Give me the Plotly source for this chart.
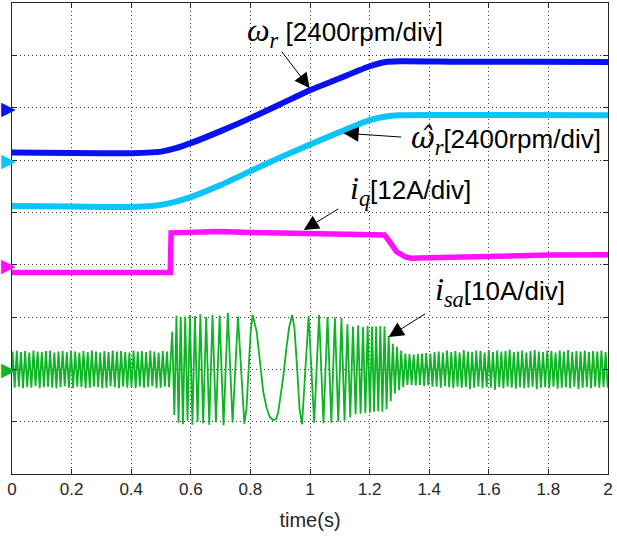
import plotly.graph_objects as go

# ---------------- data ----------------
# rotor speed omega_r  [rpm], 2400 rpm/div
wr_t = [0, 0.2, 0.4, 0.47, 0.5, 0.55, 0.6, 0.7, 0.8, 0.9, 1.0, 1.1, 1.2, 1.25, 1.3, 1.5, 1.75, 2.0]
wr_rpm = [-2060, -2080, -2085, -2050, -2015, -1855, -1625, -1075, -480, 160, 800, 1350, 1900, 2085, 2125, 2105, 2110, 2100]

# estimated speed omega_r_hat [rpm], 2400 rpm/div
wh_t = [0, 0.2, 0.4, 0.47, 0.53, 0.6, 0.7, 0.8, 0.9, 1.0, 1.1, 1.2, 1.25, 1.3, 1.6, 2.0]
wh_rpm = [-2110, -2130, -2155, -2110, -1975, -1700, -1150, -510, 120, 710, 1280, 1825, 1985, 2055, 2060, 2055]

# q-axis current i_q [A], 12 A/div
iq_t = [0, 0.2, 0.4, 0.531, 0.534, 0.6, 0.7, 0.8, 0.9, 1.0, 1.1, 1.2, 1.25, 1.265, 1.29, 1.32, 1.34, 1.4, 1.6, 1.8, 2.0]
iq_A = [-1.8, -1.7, -1.8, -1.8, 7.3, 7.5, 7.6, 7.4, 7.2, 7.0, 7.0, 6.9, 6.8, 5.5, 3.0, 1.8, 1.5, 1.6, 2.0, 2.2, 2.3]

# phase current i_sa [A], 10 A/div : extremes (time in ms)
isa_t_a = [0, 2, 9, 16, 23, 30, 37, 44, 51, 58, 65, 72, 79, 86, 93, 100, 107, 114, 121, 128, 135,
           142, 149, 156, 163, 170, 177, 184, 191, 198, 205, 212, 219, 226, 233, 240, 247, 254, 261, 268, 275,
           282, 289, 296, 303, 310, 317, 324, 331, 338, 345, 352, 359, 366, 373, 380, 387, 394, 401, 408, 415,
           422, 429, 436, 443, 450, 457, 464, 471, 478, 485, 492, 499, 506, 513, 520, 527]
isa_A_a = [0.0, 3.4, -3.5, 3.6, -3.3, 3.3, -3.6, 3.5, -3.4, 3.2, -3.5, 3.6, -3.2, 3.4, -3.6, 3.3, -3.4,
           3.5, -3.3, 3.6, -3.5, 3.2, -3.6, 3.4, -3.4, 3.5, -3.2, 3.3, -3.5, 3.6, -3.6, 3.4, -3.3,
           3.2, -3.4, 3.5, -3.6, 3.3, -3.5, 3.6, -3.3, 3.4, -3.4, 3.2, -3.6, 3.5, -3.5, 3.3, -3.2,
           3.6, -3.4, 3.4, -3.6, 3.5, -3.3, 3.3, -3.5, 3.2, -3.4, 3.6, -3.6, 3.4, -3.3, 3.5, -3.5,
           3.3, -3.4, 3.6, -3.2, 3.4, -3.6, 3.2, -3.5, 3.5, -3.3, 3.4, -3.4]
isa_t_b = [537.8, 544.8, 551.8, 558.9, 566.1, 573.6, 581.2, 589.0, 597.1, 605.4, 614.0, 622.8, 632.0,
           641.5, 651.5, 661.9, 672.8, 684.4, 696.7, 709.9, 724.3, 740.2, 758.3, 779.7, 787, 794, 801, 807.6,
           821, 832, 843, 854, 865, 876, 886, 893, 900, 910, 921, 930, 940, 948, 957, 965]
isa_A_b = [7.2, -8.7, 10.3, -10.2, 10.0, -10.5, 10.1, -9.8, 10.4, -10.6, 10.2, -10.0, 10.5,
           -10.3, 10.0, -10.6, 10.4, -10.1, 10.3, -10.7, 10.8, -10.2, 10.1, -10.4, -7.4, 0.0, 7.4, 10.4,
           7.2, 1.5, -4.2, -7.3, -9.1, -9.7, -9.5, -8.3, -5.5, -1.6, 4.1, 8.0, 10.4, 7.8, 0.0, -7.6]
isa_t_c = [973.3, 995.4, 1014.0, 1030.4, 1045.2, 1058.9, 1071.6, 1083.5, 1094.8, 1105.5, 1115.8,
           1125.6, 1135.1, 1144.2, 1153.0, 1161.6, 1169.9, 1177.9, 1185.8, 1193.5, 1201.0, 1208.3]
isa_A_c = [-10.5, 10.2, -10.2, 10.4, -10.3, 10.0, -10.2, 9.9, -10.0, 9.8, -9.8,
           8.6, -9.2, 8.2, -8.6, 8.4, -8.5, 8.1, -8.4, 8.3, -8.3, 8.2]
isa_t_d = [1215, 1222, 1229, 1236, 1243, 1250, 1257, 1264, 1271, 1278,
           1285, 1292, 1299, 1306, 1313, 1320, 1327, 1334, 1341, 1348,
           1355, 1362, 1369, 1376, 1383, 1390, 1397, 1404, 1411, 1418,
           1425, 1432, 1439, 1446, 1453, 1460, 1467, 1474, 1481, 1488,
           1495, 1502, 1509, 1516, 1523, 1530, 1537, 1544, 1551, 1558,
           1565, 1572, 1579, 1586, 1593, 1600, 1607, 1614, 1621, 1628,
           1635, 1642, 1649, 1656, 1663, 1670, 1677, 1684, 1691, 1698,
           1705, 1712, 1719, 1726, 1733, 1740, 1747, 1754, 1761, 1768,
           1775, 1782, 1789, 1796, 1803, 1810, 1817, 1824, 1831, 1838,
           1845, 1852, 1859, 1866, 1873, 1880, 1887, 1894, 1901, 1908,
           1915, 1922, 1929, 1936, 1943, 1950, 1957, 1964, 1971, 1978,
           1985, 1992, 1999]
isa_A_d = [-8.1, 8.2, -8.0, 8.3, -8.1, 8.2, -7.6, 6.4, -6.1, 4.9,
           -4.6, 4.3, -4.0, 3.6, -3.4, 3.0, -3.0, 2.9, -3.0, 2.8,
           -3.1, 2.9, -3.0, 3.0, -3.2, 3.1, -3.1, 3.0, -3.3, 3.3,
           -3.3, 3.4, -3.5, 3.2, -3.2, 3.6, -3.4, 3.3, -3.6, 3.5,
           -3.3, 3.2, -3.5, 3.7, -3.4, 3.4, -3.8, 3.3, -3.5, 3.6,
           -3.3, 3.5, -3.6, 3.2, -3.4, 3.7, -3.5, 3.3, -3.9, 3.6,
           -3.4, 3.4, -3.6, 3.5, -3.3, 3.8, -3.5, 3.3, -3.7, 3.4,
           -3.4, 3.6, -3.6, 3.2, -3.5, 3.5, -3.3, 3.7, -3.8, 3.4,
           -3.5, 3.3, -3.4, 3.6, -3.6, 3.5, -3.3, 3.2, -3.7, 3.6,
           -3.5, 3.4, -3.4, 3.7, -3.6, 3.3, -3.3, 3.5, -3.8, 3.4,
           -3.5, 3.6, -3.4, 3.3, -3.6, 3.5, -3.3, 3.4, -3.5, 3.6,
           -3.4, 3.3, -3.5]

x_tick_vals = [0, 0.2, 0.4, 0.6, 0.8, 1.0, 1.2, 1.4, 1.6, 1.8, 2.0]
x_tick_text = ["0", "0.2", "0.4", "0.6", "0.8", "1", "1.2", "1.4", "1.6", "1.8", "2"]

# ---------------- channel scaling (scope style) ----------------
WR_SCALE, WR_POS = 2400.0, 7
WH_SCALE, WH_POS = 2400.0, 6
IQ_SCALE, IQ_POS = 12.0, 4
IS_SCALE, IS_POS = 10.0, 2

C_WR = "#0812ee"
C_WH = "#0ac4fa"
C_IQ = "#ff10ff"
C_IS = "#0db423"

isa_t = [v / 1000.0 for v in isa_t_a + isa_t_b + isa_t_c + isa_t_d]
isa_A = isa_A_a + isa_A_b + isa_A_c + isa_A_d

fig = go.Figure()
fig.add_trace(go.Scatter(x=isa_t, y=[IS_POS + v / IS_SCALE for v in isa_A], mode="lines",
                         line=dict(color=C_IS, width=1.8), showlegend=False))
fig.add_trace(go.Scatter(x=iq_t, y=[IQ_POS + v / IQ_SCALE for v in iq_A], mode="lines",
                         line=dict(color=C_IQ, width=5.5), showlegend=False))
fig.add_trace(go.Scatter(x=wh_t, y=[WH_POS + v / WH_SCALE for v in wh_rpm], mode="lines",
                         line=dict(color=C_WH, width=6, shape="spline", smoothing=0.6), showlegend=False))
fig.add_trace(go.Scatter(x=wr_t, y=[WR_POS + v / WR_SCALE for v in wr_rpm], mode="lines",
                         line=dict(color=C_WR, width=6, shape="spline", smoothing=0.6), showlegend=False))

# channel reference markers at the left edge (drawn as text so they may sit outside the axes)
for pos, col in [(WR_POS, C_WR), (WH_POS, C_WH), (IQ_POS, C_IQ), (IS_POS, C_IS)]:
    fig.add_annotation(x=-0.0195, y=pos, xref="paper", yref="y", text="▶", showarrow=False,
                       font=dict(family="DejaVu Sans", size=19, color=col),
                       xanchor="left", yanchor="middle", borderpad=0)

MATH = "font-family:Liberation Serif;font-size:32px"
MATH_HAT = "font-family:DejaVu Serif;font-size:29px"
labels = [
    (f'<span style="{MATH}"><i>ω</i><sub><i>r</i></sub></span> [2400rpm/div]', 0.781, 8.44),
    (f'<span style="{MATH_HAT}"><i>ω̂</i></span><span style="{MATH}"><sub><i>r</i></sub></span>[2400rpm/div]', 1.331, 6.38),
    (f'<span style="{MATH}"><i>i</i><sub><i>q</i></sub></span>[12A/div]', 1.127, 5.42),
    (f'<span style="{MATH}"><i>i</i><sub><i>sa</i></sub></span>[10A/div]', 1.412, 3.48),
]
for txt, x, y in labels:
    fig.add_annotation(x=x, y=y, xref="x", yref="y", text=txt, showarrow=False,
                       font=dict(family="Liberation Sans, Arial", size=26, color="black"),
                       xanchor="left", yanchor="middle")

arrows = [
    (0.999, 7.372, -29, -38),
    (1.113, 6.513, 59, 4),
    (0.979, 4.662, 36, -22),
    (1.264, 2.620, 38, -24),
]
for x, y, ax, ay in arrows:
    fig.add_annotation(x=x, y=y, xref="x", yref="y", text="", showarrow=True,
                       ax=ax, ay=ay, arrowhead=2, arrowsize=3, arrowwidth=1,
                       arrowcolor="black", standoff=0, startstandoff=0)

axis_common = dict(showline=True, linecolor="#262626", linewidth=1, mirror="ticks",
                   ticks="inside", ticklen=5, tickcolor="#262626",
                   showgrid=True, gridcolor="#3a3a3a", gridwidth=1, griddash="1px,3px",
                   zeroline=False)

fig.update_layout(
    width=617, height=540,
    margin=dict(l=12, r=9, t=3, b=66),
    paper_bgcolor="white", plot_bgcolor="white",
    xaxis=dict(range=[0, 2], tickvals=x_tick_vals, ticktext=x_tick_text,
               tickfont=dict(family="Liberation Sans, Arial", size=17, color="#262626"),
               title=dict(text="time(s)", standoff=14,
                          font=dict(family="Liberation Sans, Arial", size=20, color="#262626")),
               **axis_common),
    yaxis=dict(range=[0, 9], dtick=1, tick0=0, showticklabels=False, **axis_common),
)

fig.write_html("out.html")
